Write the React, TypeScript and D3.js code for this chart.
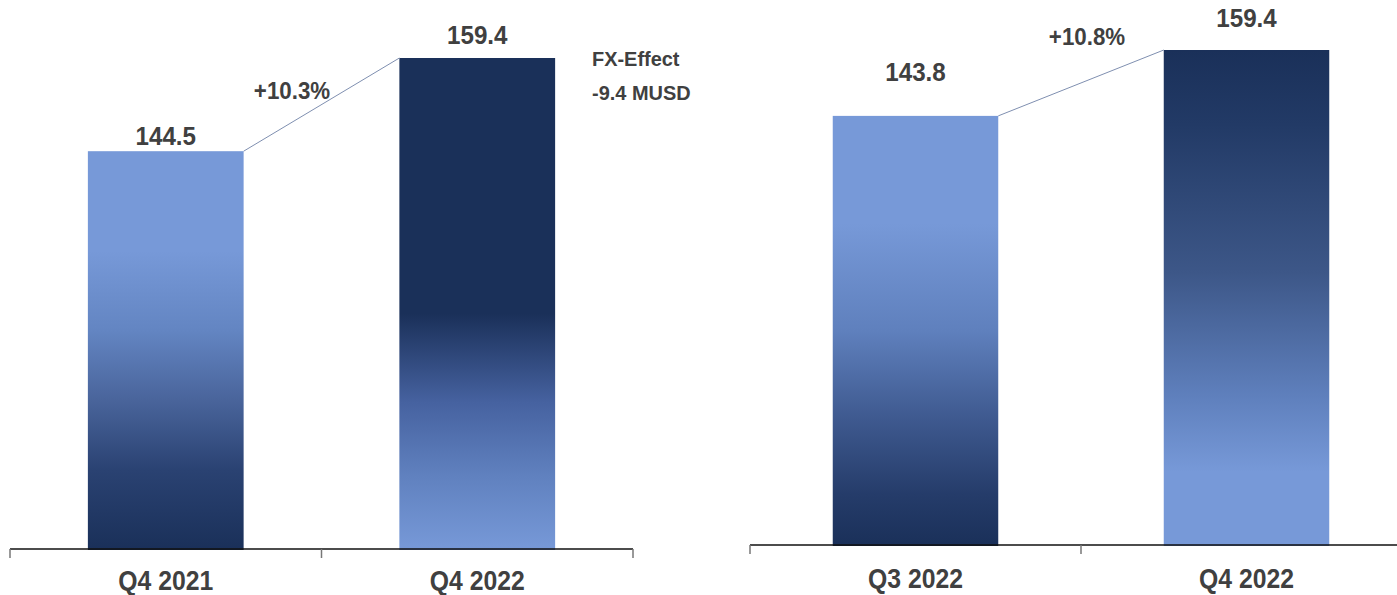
import React from "react";
import * as d3 from "d3";

const leftCategories = ["Q4 2021", "Q4 2022"];
const leftValues = [144.5, 159.4];
const leftChange = "+10.3%";
const rightCategories = ["Q3 2022", "Q4 2022"];
const rightValues = [143.8, 159.4];
const rightChange = "+10.8%";
const fxNote = ["FX-Effect", "-9.4 MUSD"];

const LIGHT = "#7799d8";
const DARK = "#1a3059";
const TEXT = "#404040";
const FONT = "'Liberation Sans', Arial, sans-serif";

type Stop = [number, string];
const gradUp: Stop[] = [
  [0, LIGHT],
  [0.25, LIGHT],
  [0.45, "#6385c2"],
  [0.62, "#4a659c"],
  [0.8, "#2a4272"],
  [1, DARK],
];
const gradDownLeft: Stop[] = [
  [0, DARK],
  [0.52, DARK],
  [0.7, "#4662a0"],
  [0.85, "#6081bf"],
  [1, LIGHT],
];
const gradUpRight: Stop[] = [
  [0, LIGHT],
  [0.25, LIGHT],
  [0.5, "#5f80bd"],
  [0.7, "#3f5a90"],
  [0.88, "#253c6a"],
  [1, DARK],
];
const gradDownRight: Stop[] = [
  [0, DARK],
  [0.15, "#223a66"],
  [0.45, "#3d5788"],
  [0.7, "#5f80bd"],
  [0.85, LIGHT],
  [1, LIGHT],
];

interface PanelProps {
  cats: string[];
  vals: number[];
  change: string;
  x0: number;
  x1: number;
  axisY: number;
  yMin: number;
  topY: number;
  grads: Stop[][];
  id: string;
  labelOffsets: number[];
  changePos: [number, number];
  catY: number;
  padding: number;
}

function Panel(p: PanelProps) {
  const band = d3.scaleBand<string>().domain(p.cats).range([p.x0, p.x1]);
  const bw = band.bandwidth() * (1 - p.padding);
  const y = d3.scaleLinear().domain([p.yMin, d3.max(p.vals)!]).range([p.axisY, p.topY]);
  const bars = p.cats.map((c, i) => {
    const cx = band(c)! + band.bandwidth() / 2;
    return { c, v: p.vals[i], x: cx - bw / 2, cx, y: y(p.vals[i]) };
  });
  const ticks = [p.x0, ...p.cats.map((c) => band(c)! + band.bandwidth())];
  return (
    <g>
      <defs>
        {bars.map((b, i) => (
          <linearGradient key={i} id={`${p.id}-g${i}`} x1="0" y1="0" x2="0" y2="1">
            {p.grads[i].map(([o, col], k) => (
              <stop key={k} offset={o} stopColor={col} />
            ))}
          </linearGradient>
        ))}
      </defs>
      {bars.map((b, i) => (
        <rect key={i} x={b.x} y={b.y} width={bw} height={p.axisY + 1 - b.y} fill={`url(#${p.id}-g${i})`} />
      ))}
      <line
        x1={bars[0].x + bw}
        y1={bars[0].y}
        x2={bars[1].x}
        y2={bars[1].y}
        stroke="#7f8fb0"
        strokeWidth={1}
      />
      <line x1={p.x0} x2={p.x1} y1={p.axisY} y2={p.axisY} stroke="#111" strokeWidth={1.5} />
      {ticks.map((t, i) => (
        <line key={i} x1={t} x2={t} y1={p.axisY} y2={p.axisY + 9} stroke="#777" strokeWidth={1.5} />
      ))}
      {bars.map((b, i) => (
        <text
          key={i}
          transform={`translate(${b.cx},${b.y - p.labelOffsets[i]}) scale(0.93,1)`}
          textAnchor="middle"
          fontFamily={FONT}
          fontWeight="bold"
          fontSize={26}
          fill={TEXT}
        >
          {b.v.toFixed(1)}
        </text>
      ))}
      {bars.map((b, i) => (
        <text
          key={i}
          transform={`translate(${b.cx},${p.catY}) scale(0.9,1)`}
          textAnchor="middle"
          fontFamily={FONT}
          fontWeight="bold"
          fontSize={27.5}
          fill={TEXT}
        >
          {b.c}
        </text>
      ))}
      <text
        transform={`translate(${p.changePos[0]},${p.changePos[1]}) scale(0.93,1)`}
        textAnchor="middle"
        fontFamily={FONT}
        fontWeight="bold"
        fontSize={24}
        fill={TEXT}
      >
        {p.change}
      </text>
    </g>
  );
}

export default function App() {
  return (
    <svg width={1397} height={595} style={{ position: "absolute", left: 0, top: 0, background: "#fff" }}>
      <rect width={1397} height={595} fill="#fff" />
      <Panel
        id="L"
        cats={leftCategories}
        vals={leftValues}
        change={leftChange}
        x0={10}
        x1={633}
        axisY={549}
        yMin={80.9}
        topY={58}
        grads={[gradUp, gradDownLeft]}
        labelOffsets={[6, 14]}
        changePos={[292, 99]}
        catY={590}
        padding={0.5}
      />
      <Panel
        id="R"
        cats={rightCategories}
        vals={rightValues}
        change={rightChange}
        x0={750}
        x1={1412}
        axisY={545}
        yMin={42.2}
        topY={50}
        grads={[gradUpRight, gradDownRight]}
        labelOffsets={[35, 23]}
        changePos={[1087, 45]}
        catY={588}
        padding={0.5}
      />
      <text transform="translate(592,66) scale(0.95,1)" fontFamily={FONT} fontWeight="bold" fontSize={21} fill={TEXT}>
        {fxNote[0]}
      </text>
      <text transform="translate(592,100) scale(0.95,1)" fontFamily={FONT} fontWeight="bold" fontSize={21} fill={TEXT}>
        {fxNote[1]}
      </text>
    </svg>
  );
}
